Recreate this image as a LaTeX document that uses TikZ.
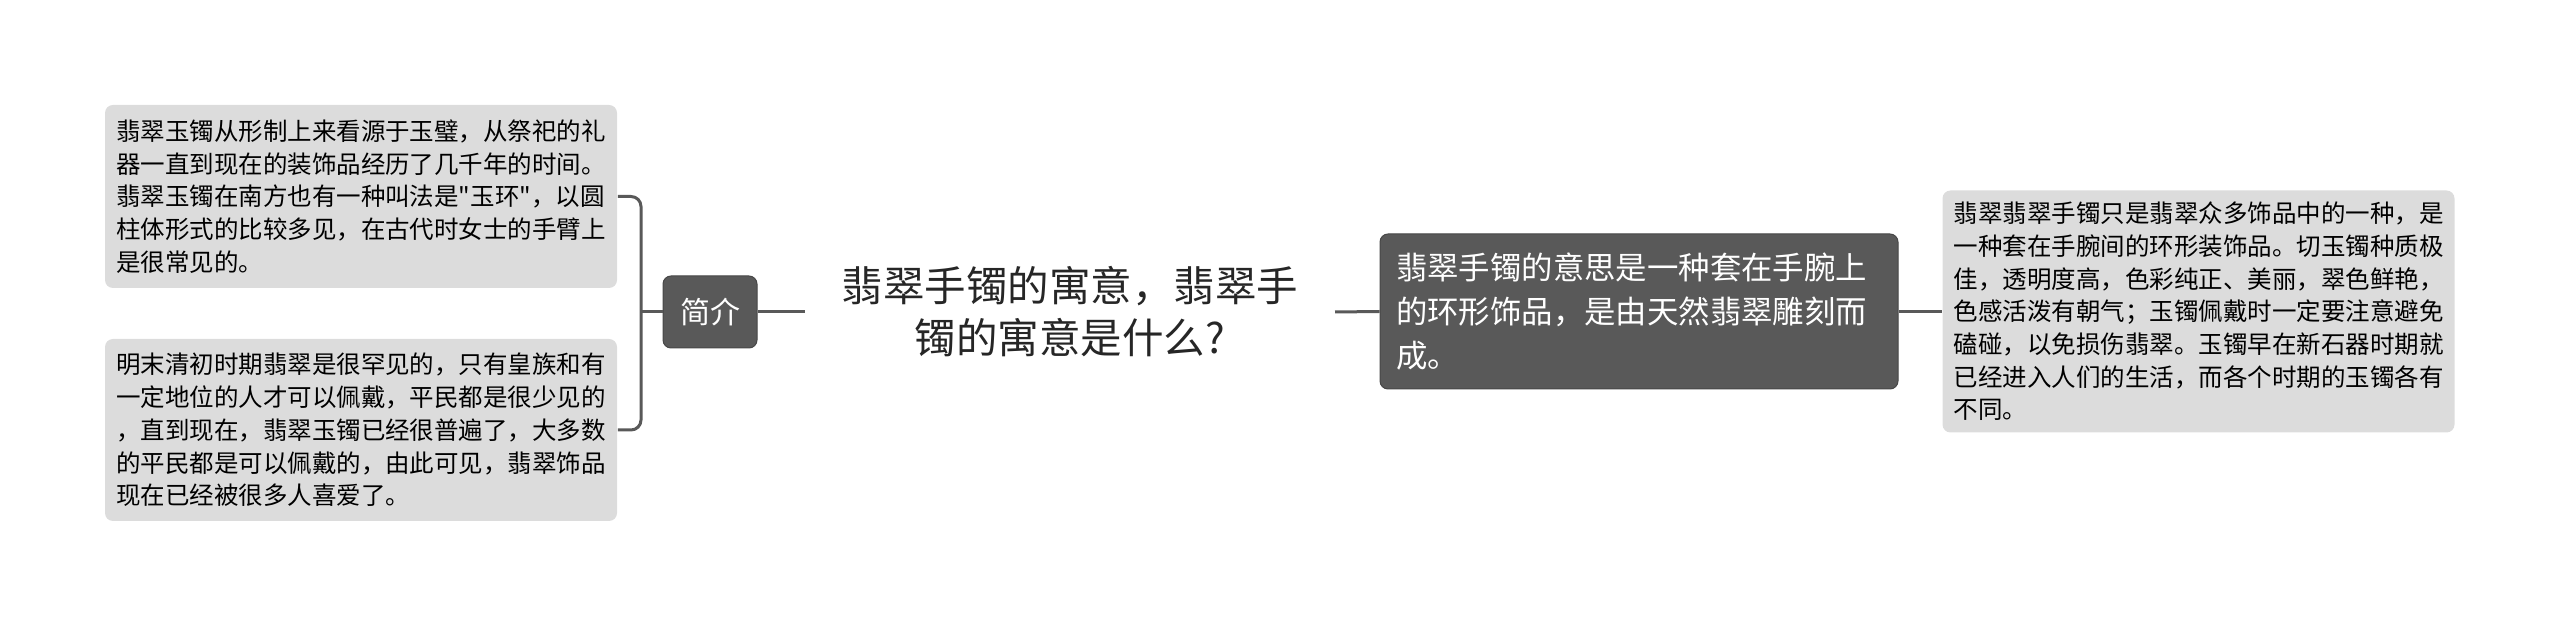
\documentclass[tikz,border=0pt]{standalone}
\usepackage{fontspec}
\newfontfamily\cjkfont{Noto Sans CJK SC}

\definecolor{linegray}{HTML}{595959}
\definecolor{boxlight}{HTML}{DCDCDC}
\definecolor{boxdark}{HTML}{595959}
\definecolor{titletext}{HTML}{262626}

\tikzset{every picture/.style={line width=0.75pt}}
\tikzset{
  lightbox/.style={fill=boxlight, rounded corners=4pt, align=left, inner xsep=5.5pt, minimum width=255pt,
    font=\cjkfont\fontsize{12.25pt}{16.35pt}\selectfont, text=black},
  darkbox/.style={fill=boxdark, draw=boxdark!80!black, line width=0.5pt, rounded corners=4pt, align=left,
    inner xsep=8pt, text width=243pt, minimum height=77.5pt,
    font=\cjkfont\fontsize{15.7pt}{22pt}\selectfont, text=white},
  topicbox/.style={fill=boxdark, draw=boxdark!80!black, line width=0.5pt, rounded corners=4pt,
    minimum width=47pt, minimum height=36pt, font=\cjkfont\fontsize{15pt}{18pt}\selectfont, text=white},
  rootnode/.style={align=center, inner xsep=18pt, font=\cjkfont\fontsize{20.75pt}{26pt}\selectfont, text=titletext},
  branch/.style={draw=linegray, line width=1.5pt}
}

\begin{document}
\begin{tikzpicture}[x=0.5pt,y=0.5pt,yscale=-1,xscale=1]
	\useasboundingbox (0,0) rectangle (2560,624);
	
	% Text Node
	\node [rootnode] (root) at (1070,312) {翡翠手镯的寓意，翡翠手\\镯的寓意是什么?};
	% Text Node
	\node [topicbox] (topic) at (710,312) {简介};
	% Text Node
	\node [lightbox, minimum height=91.5pt] (tlight) at (361,196.5) {翡翠玉镯从形制上来看源于玉璧，从祭祀的礼\\器一直到现在的装饰品经历了几千年的时间。\\翡翠玉镯在南方也有一种叫法是"玉环"，以圆\\柱体形式的比较多见，在古代时女士的手臂上\\是很常见的。};
	% Text Node
	\node [lightbox, minimum height=91pt] (blight) at (361,430) {明末清初时期翡翠是很罕见的，只有皇族和有\\一定地位的人才可以佩戴，平民都是很少见的\\，直到现在，翡翠玉镯已经很普遍了，大多数\\的平民都是可以佩戴的，由此可见，翡翠饰品\\现在已经被很多人喜爱了。};
	% Text Node
	\node [darkbox] (dark) at (1639,311.5) {翡翠手镯的意思是一种套在手腕上\\的环形饰品，是由天然翡翠雕刻而\\成。};
	% Text Node
	\node [lightbox, minimum height=121pt] (rlight) at (2198.5,311.5) {翡翠翡翠手镯只是翡翠众多饰品中的一种，是\\一种套在手腕间的环形装饰品。切玉镯种质极\\佳，透明度高，色彩纯正、美丽，翠色鲜艳，\\色感活泼有朝气；玉镯佩戴时一定要注意避免\\磕碰，以免损伤翡翠。玉镯早在新石器时期就\\已经进入人们的生活，而各个时期的玉镯各有\\不同。};
	
	\coordinate (brk) at (641,312);
	
	%Straight Lines
	\draw [branch] (topic.east) -- (root.west);
	%Straight Lines
	\draw [branch] (root.east) -- (dark.west);
	%Straight Lines
	\draw [branch] (dark.east) -- (rlight.west);
	%Straight Lines
	\draw [branch] (topic.west) -- (brk);
	%Bracket
	\draw [branch, rounded corners=5pt] (tlight.east) -| (brk) |- (blight.east);
	
\end{tikzpicture}
\end{document}
